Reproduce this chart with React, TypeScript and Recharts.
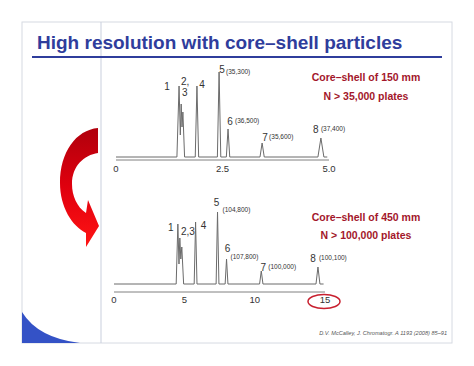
import React from "react";
import { LineChart, Line, XAxis, YAxis, ReferenceDot } from "recharts";

// ---- Top chromatogram (150 mm column), time in min, signal in arbitrary units ----
const topTraceTime = [0, 1.43, 1.48, 1.51, 1.53, 1.55, 1.57, 1.61, 1.86, 1.9, 1.94, 2.38, 2.42, 2.46, 2.59, 2.63, 2.67, 3.38, 3.43, 3.48, 4.74, 4.81, 4.88, 4.96];
const topTraceSignal = [0, 0, 71, 22, 53, 30, 45, 0, 0, 71, 0, 0, 85, 0, 0, 28, 0, 0, 14, 0, 0, 19, 0, 0];
const topTicks = [0, 2.5, 5];
const topTickLabels = ["0", "2.5", "5.0"];
const topPeakTime = [1.48, 1.53, 1.57, 1.9, 2.42, 2.63, 3.43, 4.81];
const topPeakSignal = [71, 53, 45, 71, 85, 28, 14, 19];
const topPeakLabel = ["1", "2,", "3", "4", "5", "6", "7", "8"];
const topPeakPlates = ["", "", "", "", "(35,300)", "(36,500)", "(35,600)", "(37,400)"];

// ---- Bottom chromatogram (450 mm column) ----
const bottomTraceTime = [0, 4.42, 4.54, 4.62, 4.68, 4.75, 4.82, 4.95, 5.7, 5.8, 5.9, 7.26, 7.36, 7.46, 7.9, 8.0, 8.1, 10.35, 10.47, 10.59, 14.36, 14.5, 14.64, 14.9];
const bottomTraceSignal = [0, 0, 60, 20, 46, 25, 37, 0, 0, 62, 0, 0, 72, 0, 0, 25, 0, 0, 13, 0, 0, 17, 0, 0];
const bottomTicks = [0, 5, 10, 15];
const bottomTickLabels = ["0", "5", "10", "15"];
const bottomPeakTime = [4.54, 4.68, 4.82, 5.8, 7.36, 8.0, 10.47, 14.5];
const bottomPeakSignal = [60, 46, 37, 62, 72, 25, 13, 17];
const bottomPeakLabel = ["1", "2,3", "", "4", "5", "6", "7", "8"];
const bottomPeakPlates = ["", "", "", "", "(104,800)", "(107,800)", "(100,000)", "(100,100)"];

// ---- Slide texts ----
const titleText = "High resolution with core\u2013shell particles";
const topNote = ["Core\u2013shell of 150 mm", "N > 35,000 plates"];
const bottomNote = ["Core\u2013shell of 450 mm", "N > 100,000 plates"];
const citation = "D.V. McCalley, J. Chromatogr. A 1193 (2008) 85\u201391";

// ---- styling (pixel offsets of labels relative to peak apex) ----
const FONT = "'Liberation Sans', Arial, Helvetica, sans-serif";
const topMainOffset = [[-12, 0], [4, -23], [2, -20], [5, -2], [3, -3], [2, -8], [3, -6], [-5, -9]];
const topSubOffset = [[0, 0], [0, 0], [0, 0], [0, 0], [7, 0], [7, -8], [7, -6], [0, -9]];
const bottomMainOffset = [[-7, 3], [8, -7], [0, 0], [8, 3], [-1, -10], [1, -11], [2, -4], [-5, -9]];
const bottomSubOffset = [[0, 0], [0, 0], [0, 0], [0, 0], [5, -2], [4, -2], [7, -4], [1, -9]];

const traceColor = "#6b6b6b";
const axisColor = "#808080";
const labelColor = "#333";

function makeLabelShape(main: string, sub: string, mo: number[], so: number[]) {
  return (props: any) => {
    const { cx, cy } = props;
    if (cx == null || cy == null) return <g />;
    return (
      <g>
        {main ? (
          <text x={cx + mo[0]} y={cy + mo[1] + 3.5} textAnchor="middle" fontSize={10} fill={labelColor} fontFamily={FONT}>
            {main}
          </text>
        ) : null}
        {sub ? (
          <text x={cx + so[0]} y={cy + so[1] + 2.3} textAnchor="start" fontSize={6.5} fill={labelColor} fontFamily={FONT}>
            {sub}
          </text>
        ) : null}
      </g>
    );
  };
}

const topData = topTraceTime.map((t, i) => ({ t, v: topTraceSignal[i] }));
const bottomData = bottomTraceTime.map((t, i) => ({ t, v: bottomTraceSignal[i] }));

function SlideBackground() {
  return (
    <svg width={474} height={366} style={{ position: "absolute", left: 0, top: 0 }}>
      <defs>
        <linearGradient id="arrowGrad" x1="0" y1="128" x2="0" y2="247" gradientUnits="userSpaceOnUse">
          <stop offset="0" stopColor="#b0000c" />
          <stop offset="0.5" stopColor="#e0000e" />
          <stop offset="1" stopColor="#ff1414" />
        </linearGradient>
      </defs>
      <rect x={0} y={0} width={474} height={366} fill="#fff" />
      <rect x={22} y={22} width={430} height={321} fill="#fff" stroke="#d6dae2" strokeWidth={1} />
      <line x1={101} y1={22} x2={101} y2={343} stroke="#c9cfdd" strokeWidth={1} />
      <path d="M22,312 Q38,338 80,343 L22,343 Z" fill="#3452c6" />
      <text x={37} y={49} fontSize={19} fontWeight="bold" fill="#2f3d9c" fontFamily={FONT}>
        {titleText}
      </text>
      <line x1={32} y1={57} x2={442} y2={57} stroke="#2f3d9c" strokeWidth={2} />
      <path
        d="M98,128 C76,130 60,152 60,183 C60,207 72,226 86,233 L86,247 L99,226 L88,200 L86,213 C77,207 72,196 72,184 C72,166 84,155 98,153 Z"
        fill="url(#arrowGrad)"
      />
      <g fontFamily={FONT} fontWeight="bold" fontSize={10.5} fill="#a3172b" textAnchor="middle">
        <text x={366} y={81}>{topNote[0]}</text>
        <text x={366} y={100}>{topNote[1]}</text>
        <text x={366} y={221}>{bottomNote[0]}</text>
        <text x={366} y={239}>{bottomNote[1]}</text>
      </g>
      <text x={447} y={335} textAnchor="end" fontSize={5.6} fontStyle="italic" fill="#555" fontFamily={FONT}>
        {citation}
      </text>
    </svg>
  );
}

export default function App() {
  return (
    <div style={{ position: "absolute", left: 0, top: 0, width: 474, height: 366, background: "#fff", fontFamily: FONT }}>
      <SlideBackground />
      <div style={{ position: "absolute", left: 0, top: 0 }}>
        <LineChart width={474} height={366} data={topData} margin={{ top: 68, right: 145, bottom: 186, left: 116 }}>
          <XAxis
            dataKey="t"
            type="number"
            domain={[0, 5]}
            ticks={topTicks}
            tickFormatter={(v: number, i: number) => topTickLabels[i]}
            height={20}
            tickLine={false}
            tickSize={0}
            tickMargin={5}
            axisLine={{ stroke: axisColor, strokeWidth: 1 }}
            tick={{ fontSize: 9.5, fill: labelColor, fontFamily: FONT }}
            interval={0}
          />
          <YAxis type="number" domain={[-3, 89]} width={0} tick={false} tickLine={false} axisLine={{ stroke: axisColor, strokeWidth: 1 }} />
          <Line type="linear" dataKey="v" stroke={traceColor} strokeWidth={1} dot={false} isAnimationActive={false} />
          {topPeakTime.map((t, i) => (
            <ReferenceDot
              key={"tp" + i}
              x={t}
              y={topPeakSignal[i]}
              r={1}
              shape={makeLabelShape(topPeakLabel[i], topPeakPlates[i], topMainOffset[i], topSubOffset[i])}
            />
          ))}
        </LineChart>
      </div>
      <div style={{ position: "absolute", left: 0, top: 0 }}>
        <LineChart width={474} height={366} data={bottomData} margin={{ top: 203, right: 149, bottom: 54, left: 114 }}>
          <XAxis
            dataKey="t"
            type="number"
            domain={[0, 15]}
            ticks={bottomTicks}
            tickFormatter={(v: number, i: number) => bottomTickLabels[i]}
            height={20}
            tickLine={false}
            tickSize={0}
            tickMargin={4}
            axisLine={{ stroke: axisColor, strokeWidth: 1 }}
            tick={{ fontSize: 9.5, fill: labelColor, fontFamily: FONT }}
            interval={0}
          />
          <YAxis type="number" domain={[-8, 81]} width={0} tick={false} tickLine={false} axisLine={{ stroke: axisColor, strokeWidth: 1.3 }} />
          <Line type="linear" dataKey="v" stroke={traceColor} strokeWidth={1} dot={false} isAnimationActive={false} />
          {bottomPeakTime.map((t, i) => (
            <ReferenceDot
              key={"bp" + i}
              x={t}
              y={bottomPeakSignal[i]}
              r={1}
              shape={makeLabelShape(bottomPeakLabel[i], bottomPeakPlates[i], bottomMainOffset[i], bottomSubOffset[i])}
            />
          ))}
          <ReferenceDot
            x={15}
            y={-8}
            r={1}
            ifOverflow="visible"
            shape={(p: any) => <ellipse cx={p.cx - 1} cy={p.cy + 9.5} rx={16} ry={7} fill="none" stroke="#c8202f" strokeWidth={1.5} />}
          />
        </LineChart>
      </div>
    </div>
  );
}
